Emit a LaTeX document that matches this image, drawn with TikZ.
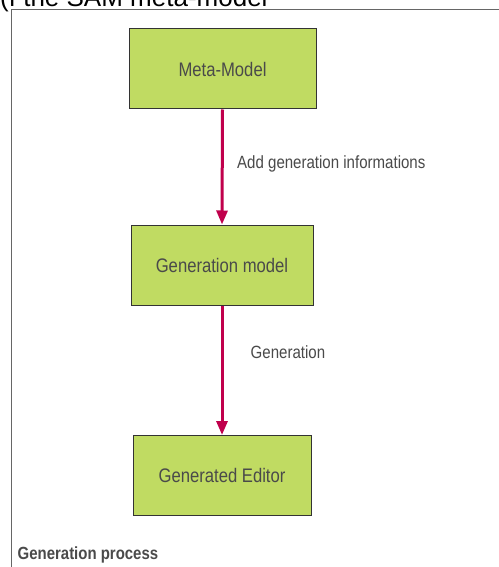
\documentclass[tikz,border=0pt]{standalone}
\usepackage{fontspec}
\setmainfont{Liberation Sans}[FakeStretch=0.85]
\newfontfamily\plainfont{Liberation Sans}
\usetikzlibrary{arrows.meta}
\definecolor{boxgreen}{HTML}{C0DB62}
\definecolor{boxline}{HTML}{333333}
\definecolor{flowred}{HTML}{C0004C}
\definecolor{textgray}{HTML}{4A4A4A}
\definecolor{framegray}{HTML}{666666}
\tikzset{
  stagebox/.style={draw=boxline, line width=1pt, fill=boxgreen, minimum height=80pt,
    text=textgray, font=\fontsize{19.6}{22}\selectfont, inner sep=0pt},
  flow/.style={draw=flowred, line width=3pt, -{Triangle[length=14pt,width=11pt]}},
  flowlabel/.style={anchor=base west, inner sep=0pt, text=textgray, font=\fontsize{17.7}{20}\selectfont}
}
\begin{document}
\begin{tikzpicture}[x=1pt,y=-1pt]
\useasboundingbox (0,0) rectangle (498,567);
\fill[white] (0,0) rectangle (498,567);
% frame and caption
\draw[framegray, line width=1pt] (11.5,600) -- (11.5,9.5) -- (520,9.5);
\node[anchor=base west, inner sep=0pt, font=\plainfont\fontsize{26}{28}\selectfont] (cuttitle) at (0,7) {(f the SAM meta-model};
\node[anchor=base west, inner sep=0pt, text=textgray, font=\bfseries\fontsize{17.6}{20}\selectfont] (caption) at (17.5,559) {Generation process};
% stages
\node[stagebox, minimum width=187pt] (metamodel) at (222.5,69) {Meta-Model};
\node[stagebox, minimum width=182pt] (genmodel) at (222,265) {Generation model};
\node[stagebox, minimum width=178pt] (editor) at (222,475.5) {Generated Editor};
% transformations
\draw[flow] (metamodel.south) -- (genmodel.north);
\draw[flow] (genmodel.south) -- (editor.north);
\node[flowlabel] (addinfo) at (237,168) {Add generation informations};
\node[flowlabel] (generation) at (250.5,358) {Generation};
\end{tikzpicture}
\end{document}
